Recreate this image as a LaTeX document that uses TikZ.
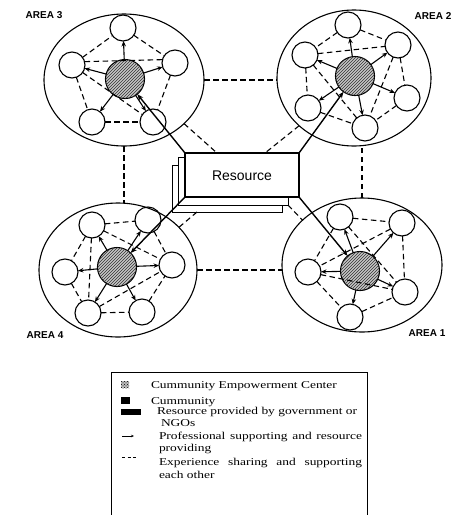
\documentclass[tikz,border=0pt]{standalone}
\usepackage{fontspec}
\setmainfont{Liberation Serif}
\setsansfont{Liberation Sans}
\usetikzlibrary{shapes.geometric,arrows.meta,patterns,calc}
\newcommand\legx[1]{\scalebox{1.28}[1]{#1}}
\begin{document}
\begin{tikzpicture}[x=1pt,y=-1pt,
  every node/.style={inner sep=0pt,outer sep=0pt},
  areabox/.style={ellipse,draw,line width=1.1pt},
  comm/.style={circle,draw,line width=1.1pt,minimum size=26pt},
  cec/.style={circle,draw,line width=1.1pt,minimum size=39pt,fill=gray!45,
    postaction={pattern=north east lines,pattern color=black!80}},
  arr/.style={line width=1.1pt,-{Stealth[length=5.5pt,width=4.5pt]}},
  resarr/.style={line width=1.4pt,-{Stealth[length=6.5pt,width=5pt]}},
  dsh/.style={dash pattern=on 5.5pt off 3.5pt,line width=1.1pt},
  lbl/.style={font=\sffamily\bfseries\fontsize{10}{12}\selectfont},
  leg/.style={anchor=base west,font=\fontsize{10.5}{12}\selectfont},
  paper/.style={draw,fill=white,line width=0.8pt},
]
\useasboundingbox (0,0) rectangle (457,515);

% ---------- area ellipses ----------
\node[areabox,minimum width=160pt,minimum height=132pt] (e3) at (124,80) {};
\node[areabox,minimum width=154pt,minimum height=136pt] (e2) at (354,78) {};
\node[areabox,minimum width=158pt,minimum height=134pt] (e4) at (118,270) {};
\node[areabox,minimum width=160pt,minimum height=134pt] (e1) at (362,265) {};

\node[lbl] (l3) at (44,15) {AREA 3};
\node[lbl] (l2) at (433,16) {AREA 2};
\node[lbl] (l4) at (45,335) {AREA 4};
\node[lbl] (l1) at (427,333) {AREA 1};

% ---------- resource stack ----------
\node[paper,minimum width=110pt,minimum height=47pt] (res3) at (227,188.5) {};
\node[paper,minimum width=110pt,minimum height=48pt] (res2) at (233,181) {};
\node[paper,line width=1.1pt,minimum width=114pt,minimum height=44pt] (res) at (242,175) {};
\node[font=\sffamily\fontsize{14}{16}\selectfont] (restext) at (242,176) {Resource};

% ---------- AREA 3 ----------
\node[cec] (c3) at (125,79) {};
\node[comm] (a3t) at (123,28) {};
\node[comm] (a3l) at (72,65) {};
\node[comm] (a3r) at (175,63) {};
\node[comm] (a3bl) at (92,122) {};
\node[comm] (a3br) at (153,122) {};
\draw[dsh] (a3l) -- (a3t);
\draw[dsh] (a3t) -- (a3r);
\draw[dsh] (a3l.15) -- (a3r.165);
\draw[dsh] (a3l) -- (a3bl);
\draw[dsh] (a3r) -- (a3br);
\draw[dsh] (a3bl) -- (a3br);
\draw[dsh] (a3l) -- (a3br);
\foreach \n in {a3t,a3l,a3r,a3bl,a3br} \draw[arr] (c3) -- (\n);

% ---------- AREA 2 ----------
\node[cec] (c2) at (355,76) {};
\node[comm] (a2t) at (348,25) {};
\node[comm] (a2tl) at (305,55) {};
\node[comm] (a2tr) at (398,45) {};
\node[comm] (a2lb) at (308,108) {};
\node[comm] (a2r) at (407,98) {};
\node[comm] (a2b) at (365,128) {};
\draw[dsh] (a2t) -- (a2tl);
\draw[dsh] (a2t) -- (a2tr);
\draw[dsh] (a2tl) -- (a2tr);
\draw[dsh] (a2tl) -- (a2lb);
\draw[dsh] (a2tl) -- (a2b);
\draw[dsh] (a2tr) -- (a2b);
\draw[dsh] (a2tr) -- (a2r);
\draw[dsh] (a2lb) -- (a2b);
\draw[dsh] (a2r) -- (a2b);
\foreach \n in {a2t,a2tl,a2tr,a2lb,a2r,a2b} \draw[arr] (c2) -- (\n);

% ---------- AREA 4 ----------
\node[cec] (c4) at (117,267) {};
\node[comm] (a4tl) at (92,225) {};
\node[comm] (a4tr) at (148,220) {};
\node[comm] (a4l) at (65,272) {};
\node[comm] (a4r) at (172,265) {};
\node[comm] (a4bl) at (88,313) {};
\node[comm] (a4br) at (142,312) {};
\draw[dsh] (a4tl) -- (a4tr);
\draw[dsh] (a4tl) -- (a4l);
\draw[dsh] (a4tl) -- (a4bl);
\draw[dsh] (a4tl) -- (a4r);
\draw[dsh] (a4tr) -- (a4r);
\draw[dsh] (a4l) -- (a4bl);
\draw[dsh] (a4bl) -- (a4br);
\draw[dsh] (a4bl) -- (a4r);
\draw[dsh] (a4br) -- (a4r);
\foreach \n in {a4tl,a4tr,a4l,a4r,a4bl,a4br} \draw[arr] (c4) -- (\n);

% ---------- AREA 1 ----------
\node[cec] (c1) at (360,271) {};
\node[comm] (a1tl) at (340,217) {};
\node[comm] (a1tr) at (402,223) {};
\node[comm] (a1l) at (308,272) {};
\node[comm] (a1r) at (405,292) {};
\node[comm] (a1b) at (350,317) {};
\draw[dsh] (a1tl) -- (a1tr);
\draw[dsh] (a1tl) -- (a1l);
\draw[dsh] (a1tr) -- (a1r);
\draw[dsh] (a1tl) -- (a1r);
\draw[dsh] (a1tr) -- (a1l);
\draw[dsh] (a1l) -- (a1r);
\draw[dsh] (a1l) -- (a1b);
\draw[dsh] (a1b) -- (a1r);
\foreach \n in {a1tl,a1tr,a1l,a1r,a1b} \draw[arr] (c1) -- (\n);

% ---------- links between areas ----------
\draw[dsh] (e3.east) -- (e3.east -| e2.west);
\draw[dsh] (e3.south) -- (e3.south |- e4.north);
\draw[dsh] (e1.north) -- (e1.north |- e2.south);
\draw[dsh] (e4.east) -- (e4.east -| e1.west);
\draw[dsh] (e3.-36) -- ($(res.north west)+(32,0)$);
\draw[dsh] (e2.221) -- ($(res.north east)+(-34,0)$);
\draw[dsh] (res2.south east) -- (e1.143);
\draw[dsh] ($(res3.south west)+(25,0)$) -- (e4.35);

% ---------- resource arrows ----------
\draw[resarr] (res.north west) -- (c3);
\draw[resarr] (res.north east) -- (c2);
\draw[resarr] (res.south east) -- (c1);
\draw[resarr] (res.south west) -- (c4);

% ---------- legend ----------
\coordinate (lgA) at (111,515);
\coordinate (lgB) at (111,372);
\coordinate (lgC) at (367,372);
\coordinate (lgD) at (367,515);
\draw[line width=0.8pt] (lgA) -- (lgB) -- (lgC) -- (lgD);

\fill[gray!55] (121,381) rectangle (129,388);
\fill[pattern=crosshatch dots,pattern color=black] (121,381) rectangle (129,388);
\fill[black] (121,397) rectangle (130,404);
\fill[black] (121,409) rectangle (141,414.5);
\coordinate (ia1) at (122,436);
\coordinate (ia2) at (134,436);
\draw[line width=0.8pt,-{Stealth[length=3pt,width=2.5pt]}] (ia1) -- (ia2);
\coordinate (id1) at (122,457);
\coordinate (id2) at (136,457);
\draw[line width=0.8pt,dash pattern=on 3pt off 2.5pt] (id1) -- (id2);

\node[leg] (t1) at (151,388.5) {\legx{Cummunity Empowerment Center}};
\node[leg] (t2) at (151,404) {\legx{Cummunity}};
\node[leg] (t3) at (157,414.5) {\legx{Resource provided by government or}};
\node[leg] (t3b) at (161,426.5) {\legx{NGOs}};
\node[leg] (t4) at (159,439.5) {\legx{\hbox to 158.6pt{Professional\hfill supporting\hfill and\hfill resource}}};
\node[leg] (t4b) at (159,451.5) {\legx{providing}};
\node[leg] (t5) at (159,465.5) {\legx{\hbox to 158.6pt{Experience\hfill sharing\hfill and\hfill supporting}}};
\node[leg] (t5b) at (159,478.5) {\legx{each other}};
\end{tikzpicture}
\end{document}
